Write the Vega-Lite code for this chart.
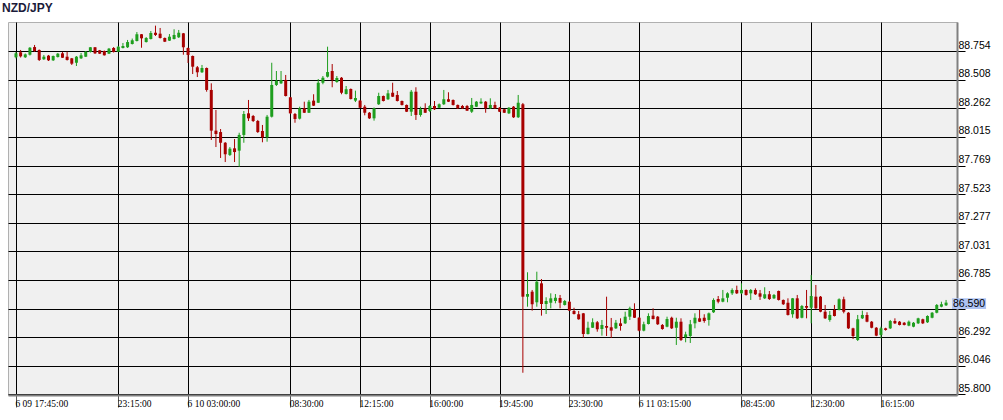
{
"$schema":"https://vega.github.io/schema/vega-lite/v6.json",
"width":949,"height":373,
"autosize":{"type":"none"},
"padding":{"left":8,"top":22,"right":46,"bottom":25},
"background":"#ffffff",
"config":{"font":"Liberation Sans","view":{"fill":"#f0f0f0","stroke":"#b0b0b0","strokeWidth":1}},
"title":{"text":"NZD/JPY","anchor":"start","frame":"group","dx":-6,"offset":7,"fontSize":12,"fontWeight":"bold","font":"Liberation Sans","color":"#1b1b3a"},
"data":{"values":[
{"t":"2020-06-09T17:45","o":88.700,"h":88.746,"l":88.690,"c":88.734},
{"t":"2020-06-09T18:00","o":88.743,"h":88.763,"l":88.698,"c":88.708},
{"t":"2020-06-09T18:15","o":88.700,"h":88.732,"l":88.694,"c":88.725},
{"t":"2020-06-09T18:30","o":88.722,"h":88.788,"l":88.715,"c":88.782},
{"t":"2020-06-09T18:45","o":88.788,"h":88.806,"l":88.746,"c":88.754},
{"t":"2020-06-09T19:00","o":88.763,"h":88.767,"l":88.668,"c":88.677},
{"t":"2020-06-09T19:15","o":88.683,"h":88.720,"l":88.677,"c":88.705},
{"t":"2020-06-09T19:30","o":88.714,"h":88.720,"l":88.668,"c":88.674},
{"t":"2020-06-09T19:45","o":88.674,"h":88.715,"l":88.668,"c":88.711},
{"t":"2020-06-09T20:00","o":88.702,"h":88.737,"l":88.698,"c":88.731},
{"t":"2020-06-09T20:15","o":88.734,"h":88.746,"l":88.694,"c":88.696},
{"t":"2020-06-09T20:30","o":88.705,"h":88.748,"l":88.672,"c":88.677},
{"t":"2020-06-09T20:45","o":88.691,"h":88.694,"l":88.634,"c":88.645},
{"t":"2020-06-09T21:00","o":88.653,"h":88.711,"l":88.625,"c":88.705},
{"t":"2020-06-09T21:15","o":88.691,"h":88.737,"l":88.685,"c":88.717},
{"t":"2020-06-09T21:30","o":88.705,"h":88.754,"l":88.702,"c":88.748},
{"t":"2020-06-09T21:45","o":88.746,"h":88.788,"l":88.741,"c":88.786},
{"t":"2020-06-09T22:00","o":88.786,"h":88.788,"l":88.728,"c":88.734},
{"t":"2020-06-09T22:15","o":88.760,"h":88.763,"l":88.728,"c":88.731},
{"t":"2020-06-09T22:30","o":88.754,"h":88.758,"l":88.715,"c":88.717},
{"t":"2020-06-09T22:45","o":88.731,"h":88.780,"l":88.728,"c":88.774},
{"t":"2020-06-09T23:00","o":88.780,"h":88.788,"l":88.741,"c":88.746},
{"t":"2020-06-09T23:15","o":88.748,"h":88.797,"l":88.746,"c":88.791},
{"t":"2020-06-09T23:30","o":88.780,"h":88.823,"l":88.776,"c":88.797},
{"t":"2020-06-09T23:45","o":88.786,"h":88.849,"l":88.780,"c":88.831},
{"t":"2020-06-10T00:00","o":88.814,"h":88.861,"l":88.810,"c":88.846},
{"t":"2020-06-10T00:15","o":88.840,"h":88.917,"l":88.836,"c":88.898},
{"t":"2020-06-10T00:30","o":88.898,"h":88.900,"l":88.782,"c":88.863},
{"t":"2020-06-10T00:45","o":88.831,"h":88.874,"l":88.827,"c":88.866},
{"t":"2020-06-10T01:00","o":88.857,"h":88.926,"l":88.853,"c":88.909},
{"t":"2020-06-10T01:15","o":88.911,"h":88.972,"l":88.883,"c":88.892},
{"t":"2020-06-10T01:30","o":88.903,"h":88.952,"l":88.861,"c":88.866},
{"t":"2020-06-10T01:45","o":88.866,"h":88.870,"l":88.831,"c":88.834},
{"t":"2020-06-10T02:00","o":88.843,"h":88.900,"l":88.840,"c":88.877},
{"t":"2020-06-10T02:15","o":88.857,"h":88.941,"l":88.853,"c":88.892},
{"t":"2020-06-10T02:30","o":88.872,"h":88.935,"l":88.866,"c":88.911},
{"t":"2020-06-10T02:45","o":88.906,"h":88.909,"l":88.722,"c":88.786},
{"t":"2020-06-10T03:00","o":88.780,"h":88.784,"l":88.651,"c":88.720},
{"t":"2020-06-10T03:15","o":88.711,"h":88.715,"l":88.556,"c":88.619},
{"t":"2020-06-10T03:30","o":88.614,"h":88.625,"l":88.530,"c":88.571},
{"t":"2020-06-10T03:45","o":88.571,"h":88.634,"l":88.565,"c":88.608},
{"t":"2020-06-10T04:00","o":88.608,"h":88.612,"l":88.404,"c":88.419},
{"t":"2020-06-10T04:15","o":88.419,"h":88.476,"l":87.989,"c":88.069},
{"t":"2020-06-10T04:30","o":88.069,"h":88.247,"l":87.928,"c":88.040},
{"t":"2020-06-10T04:45","o":88.057,"h":88.083,"l":87.834,"c":87.965},
{"t":"2020-06-10T05:00","o":87.965,"h":87.971,"l":87.799,"c":87.866},
{"t":"2020-06-10T05:15","o":87.860,"h":87.928,"l":87.851,"c":87.914},
{"t":"2020-06-10T05:30","o":87.917,"h":87.997,"l":87.799,"c":87.885},
{"t":"2020-06-10T05:45","o":87.897,"h":88.051,"l":87.759,"c":88.032},
{"t":"2020-06-10T06:00","o":88.032,"h":88.238,"l":87.965,"c":88.212},
{"t":"2020-06-10T06:15","o":88.218,"h":88.333,"l":88.152,"c":88.175},
{"t":"2020-06-10T06:30","o":88.195,"h":88.204,"l":88.143,"c":88.152},
{"t":"2020-06-10T06:45","o":88.152,"h":88.161,"l":88.049,"c":88.057},
{"t":"2020-06-10T07:00","o":88.066,"h":88.118,"l":87.969,"c":88.012},
{"t":"2020-06-10T07:15","o":88.012,"h":88.204,"l":87.974,"c":88.189},
{"t":"2020-06-10T07:30","o":88.189,"h":88.653,"l":88.182,"c":88.462},
{"t":"2020-06-10T07:45","o":88.462,"h":88.582,"l":88.453,"c":88.499},
{"t":"2020-06-10T08:00","o":88.476,"h":88.582,"l":88.470,"c":88.505},
{"t":"2020-06-10T08:15","o":88.505,"h":88.548,"l":88.363,"c":88.367},
{"t":"2020-06-10T08:30","o":88.356,"h":88.358,"l":88.212,"c":88.218},
{"t":"2020-06-10T08:45","o":88.212,"h":88.221,"l":88.137,"c":88.169},
{"t":"2020-06-10T09:00","o":88.172,"h":88.275,"l":88.165,"c":88.261},
{"t":"2020-06-10T09:15","o":88.261,"h":88.318,"l":88.221,"c":88.223},
{"t":"2020-06-10T09:30","o":88.223,"h":88.333,"l":88.221,"c":88.318},
{"t":"2020-06-10T09:45","o":88.327,"h":88.382,"l":88.281,"c":88.284},
{"t":"2020-06-10T10:00","o":88.309,"h":88.513,"l":88.307,"c":88.481},
{"t":"2020-06-10T10:15","o":88.481,"h":88.539,"l":88.468,"c":88.524},
{"t":"2020-06-10T10:30","o":88.533,"h":88.791,"l":88.526,"c":88.573},
{"t":"2020-06-10T10:45","o":88.582,"h":88.642,"l":88.442,"c":88.505},
{"t":"2020-06-10T11:00","o":88.487,"h":88.539,"l":88.481,"c":88.522},
{"t":"2020-06-10T11:15","o":88.524,"h":88.530,"l":88.382,"c":88.395},
{"t":"2020-06-10T11:30","o":88.384,"h":88.453,"l":88.380,"c":88.425},
{"t":"2020-06-10T11:45","o":88.427,"h":88.432,"l":88.337,"c":88.341},
{"t":"2020-06-10T12:00","o":88.327,"h":88.413,"l":88.315,"c":88.350},
{"t":"2020-06-10T12:15","o":88.327,"h":88.333,"l":88.264,"c":88.266},
{"t":"2020-06-10T12:30","o":88.275,"h":88.290,"l":88.201,"c":88.223},
{"t":"2020-06-10T12:45","o":88.223,"h":88.229,"l":88.169,"c":88.175},
{"t":"2020-06-10T13:00","o":88.175,"h":88.268,"l":88.155,"c":88.261},
{"t":"2020-06-10T13:15","o":88.296,"h":88.395,"l":88.290,"c":88.367},
{"t":"2020-06-10T13:30","o":88.367,"h":88.371,"l":88.320,"c":88.324},
{"t":"2020-06-10T13:45","o":88.339,"h":88.419,"l":88.333,"c":88.390},
{"t":"2020-06-10T14:00","o":88.395,"h":88.481,"l":88.358,"c":88.361},
{"t":"2020-06-10T14:15","o":88.376,"h":88.410,"l":88.320,"c":88.324},
{"t":"2020-06-10T14:30","o":88.324,"h":88.328,"l":88.285,"c":88.290},
{"t":"2020-06-10T14:45","o":88.290,"h":88.294,"l":88.229,"c":88.232},
{"t":"2020-06-10T15:00","o":88.232,"h":88.419,"l":88.195,"c":88.404},
{"t":"2020-06-10T15:15","o":88.404,"h":88.442,"l":88.161,"c":88.204},
{"t":"2020-06-10T15:30","o":88.204,"h":88.275,"l":88.189,"c":88.253},
{"t":"2020-06-10T15:45","o":88.261,"h":88.304,"l":88.221,"c":88.223},
{"t":"2020-06-10T16:00","o":88.238,"h":88.290,"l":88.229,"c":88.281},
{"t":"2020-06-10T16:15","o":88.281,"h":88.324,"l":88.247,"c":88.253},
{"t":"2020-06-10T16:30","o":88.266,"h":88.303,"l":88.264,"c":88.296},
{"t":"2020-06-10T16:45","o":88.296,"h":88.419,"l":88.290,"c":88.339},
{"t":"2020-06-10T17:00","o":88.339,"h":88.399,"l":88.315,"c":88.318},
{"t":"2020-06-10T17:15","o":88.333,"h":88.337,"l":88.285,"c":88.290},
{"t":"2020-06-10T17:30","o":88.290,"h":88.294,"l":88.255,"c":88.261},
{"t":"2020-06-10T17:45","o":88.281,"h":88.290,"l":88.255,"c":88.261},
{"t":"2020-06-10T18:00","o":88.281,"h":88.290,"l":88.238,"c":88.241},
{"t":"2020-06-10T18:15","o":88.232,"h":88.350,"l":88.221,"c":88.290},
{"t":"2020-06-10T18:30","o":88.275,"h":88.324,"l":88.272,"c":88.318},
{"t":"2020-06-10T18:45","o":88.304,"h":88.347,"l":88.298,"c":88.318},
{"t":"2020-06-10T19:00","o":88.318,"h":88.324,"l":88.223,"c":88.261},
{"t":"2020-06-10T19:15","o":88.261,"h":88.347,"l":88.255,"c":88.290},
{"t":"2020-06-10T19:30","o":88.290,"h":88.318,"l":88.255,"c":88.261},
{"t":"2020-06-10T19:45","o":88.266,"h":88.272,"l":88.229,"c":88.232},
{"t":"2020-06-10T20:00","o":88.253,"h":88.255,"l":88.221,"c":88.223},
{"t":"2020-06-10T20:15","o":88.218,"h":88.272,"l":88.212,"c":88.266},
{"t":"2020-06-10T20:30","o":88.275,"h":88.281,"l":88.178,"c":88.184},
{"t":"2020-06-10T20:45","o":88.184,"h":88.376,"l":88.178,"c":88.309},
{"t":"2020-06-10T21:00","o":88.296,"h":88.307,"l":85.987,"c":86.641},
{"t":"2020-06-10T21:15","o":86.641,"h":86.851,"l":86.555,"c":86.664},
{"t":"2020-06-10T21:30","o":86.684,"h":86.699,"l":86.521,"c":86.576},
{"t":"2020-06-10T21:45","o":86.593,"h":86.856,"l":86.555,"c":86.770},
{"t":"2020-06-10T22:00","o":86.756,"h":86.793,"l":86.478,"c":86.578},
{"t":"2020-06-10T22:15","o":86.578,"h":86.636,"l":86.492,"c":86.604},
{"t":"2020-06-10T22:30","o":86.589,"h":86.670,"l":86.541,"c":86.627},
{"t":"2020-06-10T22:45","o":86.604,"h":86.664,"l":86.584,"c":86.632},
{"t":"2020-06-10T23:00","o":86.630,"h":86.656,"l":86.541,"c":86.589},
{"t":"2020-06-10T23:15","o":86.570,"h":86.613,"l":86.565,"c":86.604},
{"t":"2020-06-10T23:30","o":86.598,"h":86.604,"l":86.518,"c":86.521},
{"t":"2020-06-10T23:45","o":86.518,"h":86.546,"l":86.488,"c":86.492},
{"t":"2020-06-11T00:00","o":86.490,"h":86.518,"l":86.443,"c":86.447},
{"t":"2020-06-11T00:15","o":86.498,"h":86.501,"l":86.288,"c":86.320},
{"t":"2020-06-11T00:30","o":86.320,"h":86.426,"l":86.316,"c":86.374},
{"t":"2020-06-11T00:45","o":86.374,"h":86.455,"l":86.372,"c":86.421},
{"t":"2020-06-11T01:00","o":86.421,"h":86.432,"l":86.340,"c":86.361},
{"t":"2020-06-11T01:15","o":86.363,"h":86.441,"l":86.306,"c":86.398},
{"t":"2020-06-11T01:30","o":86.389,"h":86.641,"l":86.303,"c":86.374},
{"t":"2020-06-11T01:45","o":86.378,"h":86.458,"l":86.286,"c":86.349},
{"t":"2020-06-11T02:00","o":86.369,"h":86.441,"l":86.363,"c":86.417},
{"t":"2020-06-11T02:15","o":86.412,"h":86.455,"l":86.349,"c":86.389},
{"t":"2020-06-11T02:30","o":86.412,"h":86.512,"l":86.406,"c":86.469},
{"t":"2020-06-11T02:45","o":86.469,"h":86.555,"l":86.441,"c":86.541},
{"t":"2020-06-11T03:00","o":86.533,"h":86.584,"l":86.458,"c":86.460},
{"t":"2020-06-11T03:15","o":86.460,"h":86.466,"l":86.343,"c":86.349},
{"t":"2020-06-11T03:30","o":86.349,"h":86.426,"l":86.343,"c":86.404},
{"t":"2020-06-11T03:45","o":86.406,"h":86.498,"l":86.402,"c":86.475},
{"t":"2020-06-11T04:00","o":86.478,"h":86.541,"l":86.445,"c":86.449},
{"t":"2020-06-11T04:15","o":86.469,"h":86.475,"l":86.398,"c":86.404},
{"t":"2020-06-11T04:30","o":86.398,"h":86.406,"l":86.357,"c":86.363},
{"t":"2020-06-11T04:45","o":86.383,"h":86.469,"l":86.378,"c":86.449},
{"t":"2020-06-11T05:00","o":86.460,"h":86.469,"l":86.363,"c":86.369},
{"t":"2020-06-11T05:15","o":86.374,"h":86.460,"l":86.226,"c":86.426},
{"t":"2020-06-11T05:30","o":86.426,"h":86.455,"l":86.260,"c":86.269},
{"t":"2020-06-11T05:45","o":86.292,"h":86.340,"l":86.249,"c":86.317},
{"t":"2020-06-11T06:00","o":86.303,"h":86.441,"l":86.243,"c":86.404},
{"t":"2020-06-11T06:15","o":86.412,"h":86.498,"l":86.369,"c":86.460},
{"t":"2020-06-11T06:30","o":86.455,"h":86.527,"l":86.423,"c":86.426},
{"t":"2020-06-11T06:45","o":86.460,"h":86.490,"l":86.417,"c":86.432},
{"t":"2020-06-11T07:00","o":86.441,"h":86.505,"l":86.392,"c":86.498},
{"t":"2020-06-11T07:15","o":86.507,"h":86.627,"l":86.501,"c":86.613},
{"t":"2020-06-11T07:30","o":86.621,"h":86.647,"l":86.584,"c":86.598},
{"t":"2020-06-11T07:45","o":86.598,"h":86.699,"l":86.593,"c":86.627},
{"t":"2020-06-11T08:00","o":86.632,"h":86.679,"l":86.593,"c":86.670},
{"t":"2020-06-11T08:15","o":86.670,"h":86.713,"l":86.656,"c":86.699},
{"t":"2020-06-11T08:30","o":86.699,"h":86.736,"l":86.664,"c":86.670},
{"t":"2020-06-11T08:45","o":86.670,"h":86.756,"l":86.664,"c":86.699},
{"t":"2020-06-11T09:00","o":86.699,"h":86.703,"l":86.650,"c":86.656},
{"t":"2020-06-11T09:15","o":86.670,"h":86.707,"l":86.613,"c":86.699},
{"t":"2020-06-11T09:30","o":86.699,"h":86.713,"l":86.656,"c":86.662},
{"t":"2020-06-11T09:45","o":86.670,"h":86.699,"l":86.613,"c":86.641},
{"t":"2020-06-11T10:00","o":86.627,"h":86.722,"l":86.621,"c":86.662},
{"t":"2020-06-11T10:15","o":86.662,"h":86.690,"l":86.613,"c":86.621},
{"t":"2020-06-11T10:30","o":86.627,"h":86.664,"l":86.621,"c":86.656},
{"t":"2020-06-11T10:45","o":86.690,"h":86.694,"l":86.608,"c":86.613},
{"t":"2020-06-11T11:00","o":86.613,"h":86.617,"l":86.570,"c":86.576},
{"t":"2020-06-11T11:15","o":86.589,"h":86.627,"l":86.479,"c":86.484},
{"t":"2020-06-11T11:30","o":86.490,"h":86.630,"l":86.460,"c":86.627},
{"t":"2020-06-11T11:45","o":86.627,"h":86.656,"l":86.449,"c":86.455},
{"t":"2020-06-11T12:00","o":86.460,"h":86.570,"l":86.455,"c":86.561},
{"t":"2020-06-11T12:15","o":86.561,"h":86.699,"l":86.455,"c":86.546},
{"t":"2020-06-11T12:30","o":86.546,"h":86.828,"l":86.412,"c":86.647},
{"t":"2020-06-11T12:45","o":86.641,"h":86.742,"l":86.535,"c":86.541},
{"t":"2020-06-11T13:00","o":86.641,"h":86.647,"l":86.507,"c":86.512},
{"t":"2020-06-11T13:15","o":86.512,"h":86.570,"l":86.449,"c":86.455},
{"t":"2020-06-11T13:30","o":86.441,"h":86.518,"l":86.426,"c":86.484},
{"t":"2020-06-11T13:45","o":86.527,"h":86.570,"l":86.471,"c":86.475},
{"t":"2020-06-11T14:00","o":86.527,"h":86.627,"l":86.523,"c":86.619},
{"t":"2020-06-11T14:15","o":86.619,"h":86.641,"l":86.498,"c":86.512},
{"t":"2020-06-11T14:30","o":86.503,"h":86.509,"l":86.363,"c":86.369},
{"t":"2020-06-11T14:45","o":86.369,"h":86.374,"l":86.277,"c":86.303},
{"t":"2020-06-11T15:00","o":86.269,"h":86.484,"l":86.260,"c":86.447},
{"t":"2020-06-11T15:15","o":86.455,"h":86.521,"l":86.449,"c":86.484},
{"t":"2020-06-11T15:30","o":86.484,"h":86.507,"l":86.421,"c":86.426},
{"t":"2020-06-11T15:45","o":86.426,"h":86.432,"l":86.369,"c":86.374},
{"t":"2020-06-11T16:00","o":86.374,"h":86.380,"l":86.301,"c":86.306},
{"t":"2020-06-11T16:15","o":86.312,"h":86.383,"l":86.283,"c":86.369},
{"t":"2020-06-11T16:30","o":86.369,"h":86.374,"l":86.349,"c":86.355},
{"t":"2020-06-11T16:45","o":86.369,"h":86.441,"l":86.363,"c":86.432},
{"t":"2020-06-11T17:00","o":86.432,"h":86.455,"l":86.406,"c":86.412},
{"t":"2020-06-11T17:15","o":86.426,"h":86.432,"l":86.394,"c":86.398},
{"t":"2020-06-11T17:30","o":86.417,"h":86.423,"l":86.394,"c":86.398},
{"t":"2020-06-11T17:45","o":86.392,"h":86.436,"l":86.387,"c":86.426},
{"t":"2020-06-11T18:00","o":86.383,"h":86.423,"l":86.378,"c":86.417},
{"t":"2020-06-11T18:15","o":86.412,"h":86.460,"l":86.406,"c":86.455},
{"t":"2020-06-11T18:30","o":86.447,"h":86.452,"l":86.406,"c":86.412},
{"t":"2020-06-11T18:45","o":86.421,"h":86.481,"l":86.415,"c":86.475},
{"t":"2020-06-11T19:00","o":86.460,"h":86.509,"l":86.455,"c":86.503},
{"t":"2020-06-11T19:15","o":86.503,"h":86.578,"l":86.498,"c":86.570},
{"t":"2020-06-11T19:30","o":86.555,"h":86.598,"l":86.550,"c":86.576},
{"t":"2020-06-11T19:45","o":86.567,"h":86.613,"l":86.561,"c":86.590}
]},
"encoding":{
"x":{"field":"t","type":"temporal","title":null,
"scale":{"domain":[{"year":2020,"month":6,"date":9,"hours":17,"minutes":35,"seconds":26},{"year":2020,"month":6,"date":11,"hours":20,"minutes":4,"seconds":9}],"nice":false},
"axis":{"values":[
{"year":2020,"month":6,"date":9,"hours":17,"minutes":45},
{"year":2020,"month":6,"date":9,"hours":23,"minutes":15},
{"year":2020,"month":6,"date":10,"hours":3,"minutes":0},
{"year":2020,"month":6,"date":10,"hours":8,"minutes":30},
{"year":2020,"month":6,"date":10,"hours":12,"minutes":15},
{"year":2020,"month":6,"date":10,"hours":16,"minutes":0},
{"year":2020,"month":6,"date":10,"hours":19,"minutes":45},
{"year":2020,"month":6,"date":10,"hours":23,"minutes":30},
{"year":2020,"month":6,"date":11,"hours":3,"minutes":15},
{"year":2020,"month":6,"date":11,"hours":8,"minutes":45},
{"year":2020,"month":6,"date":11,"hours":12,"minutes":30},
{"year":2020,"month":6,"date":11,"hours":16,"minutes":15}],
"labelExpr":"(timeFormat(datum.value,'%H:%M')=='17:45' || timeFormat(datum.value,'%H')=='03') ? timeFormat(datum.value,'%-m %d %H:%M:%S') : timeFormat(datum.value,'%H:%M:%S')",
"grid":true,"gridColor":"#000000","gridOpacity":1,"gridWidth":1,
"domainColor":"#808080","domainWidth":2,"tickColor":"#555555","tickSize":12,"tickWidth":1,
"labelAlign":"left","labelBaseline":"top","labelPadding":-9,"labelOffset":-1,
"labelFont":"Liberation Sans Narrow","labelFontSize":9.5,"labelColor":"#000000",
"labelFlush":false,"labelOverlap":false,"zindex":0}},
"y":{"type":"quantitative","title":null,
"scale":{"domain":[85.7956,89.0034],"nice":false,"zero":false},
"axis":{"orient":"right","values":[85.8,86.046,86.292,86.539,86.785,87.031,87.277,87.523,87.769,88.015,88.262,88.508,88.754],
"labelExpr":"datum.value==86.539 ? '' : format(datum.value,'.3f')",
"grid":true,"gridColor":"#000000","gridOpacity":1,"gridWidth":1,
"domainColor":"#808080","domainWidth":2,"tickColor":"#000000","tickSize":8,"tickWidth":1,
"labelAlign":"left","labelBaseline":"bottom","labelPadding":-7,"labelOffset":-1,
"labelFont":"Liberation Sans","labelFontSize":10.5,"labelColor":"#000000",
"labelOverlap":false,"zindex":0}}
},
"layer":[
{"mark":{"type":"rule","strokeWidth":1},
"encoding":{"y":{"field":"l"},"y2":{"field":"h"},
"color":{"condition":{"test":"datum.c > datum.o","value":"#1e9e1e"},"value":"#a80000"}}},
{"mark":{"type":"bar","width":3},
"encoding":{"y":{"field":"o"},"y2":{"field":"c"},
"color":{"condition":{"test":"datum.c > datum.o","value":"#1e9e1e"},"value":"#a80000"}}},
{"transform":[{"filter":{"field":"t","equal":{"year":2020,"month":6,"date":11,"hours":19,"minutes":45}}}],
"mark":{"type":"point","shape":"M-1,-0.32L1,-0.32L1,0.32L-1,0.32Z","filled":true,"size":1156,"color":"#aec3f2","opacity":1,"xOffset":23,"yOffset":1},
"encoding":{"y":{"field":"c"}}},
{"transform":[{"filter":{"field":"t","equal":{"year":2020,"month":6,"date":11,"hours":19,"minutes":45}}}],
"mark":{"type":"text","xOffset":23,"yOffset":1,"align":"center","baseline":"middle","font":"Liberation Sans","fontSize":10.5,"color":"#000000"},
"encoding":{"y":{"field":"c"},"text":{"field":"c","type":"quantitative","format":".3f"}}}
]
}
